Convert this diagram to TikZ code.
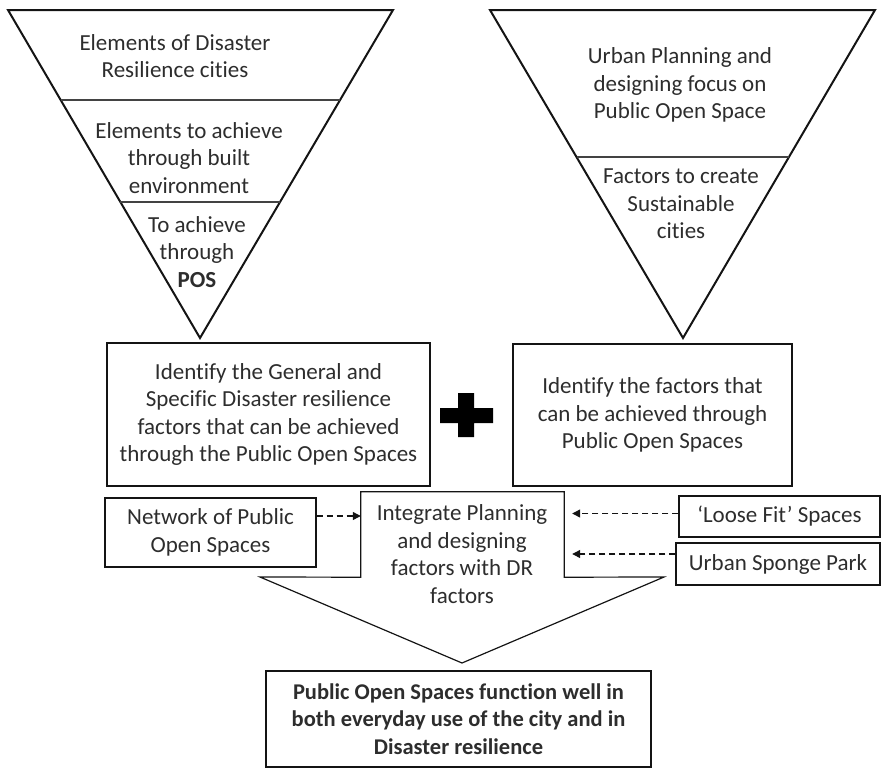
\documentclass[tikz,border=0pt]{standalone}
\usepackage{fontspec}
\setmainfont{Carlito}[Ligatures=CommonOff]
\usetikzlibrary{arrows.meta,calc}
\definecolor{txt}{RGB}{45,45,45}
\definecolor{ln}{RGB}{20,20,20}
\tikzset{
  lbl/.style={align=center,text=txt,font=\fontsize{23}{27.5}\selectfont,inner sep=0pt},
  blbl/.style={lbl,font=\fontsize{22.5}{27.5}\selectfont\bfseries},
  tri/.style={draw=ln,line width=2pt,line join=miter},
  divl/.style={draw=ln!80,line width=1.5pt},
  boxl/.style={draw=ln,line width=1.3pt},
  dasharrow/.style={draw=ln,line width=1.2pt,dash pattern=on 6pt off 4pt,-{Triangle[length=8pt,width=8pt]}}
}
\begin{document}
\begin{tikzpicture}[x=1pt,y=-1pt]
\useasboundingbox (0,0) rectangle (884,769);
% left triangle
\coordinate (LA) at (8,10); \coordinate (LB) at (393,10); \coordinate (LC) at (200,338);
\draw[tri] (LA) -- (LB) -- (LC) -- cycle;
\draw[divl] ($(LA)!90/328!(LC)$) -- ($(LB)!90/328!(LC)$);
\draw[divl] ($(LA)!192/328!(LC)$) -- ($(LB)!192/328!(LC)$);
\node[lbl] (l1) at (175,56) {Elements of Disaster\\Resilience cities};
\node[lbl] (l2) at (189,158) {Elements to achieve\\through built\\environment};
\node[lbl] (l3) at (197,252) {To achieve\\through\\\textbf{POS}};
% right triangle
\coordinate (RA) at (490,10); \coordinate (RB) at (875,10); \coordinate (RC) at (683,338);
\draw[tri] (RA) -- (RB) -- (RC) -- cycle;
\draw[divl] ($(RA)!147/328!(RC)$) -- ($(RB)!147/328!(RC)$);
\node[lbl] (r1) at (680,85) {Urban Planning and\\designing focus on\\Public Open Space};
\node[lbl] (r2) at (681,204) {Factors to create\\Sustainable\\cities};
% middle boxes
\node[boxl,lbl,minimum width=323pt,minimum height=143pt] (idl) at (268.5,414.5) {Identify the General and\\Specific Disaster resilience\\factors that can be achieved\\through the Public Open Spaces};
\node[boxl,lbl,minimum width=279pt,minimum height=142pt] (idr) at (652.5,415) {Identify the factors that\\can be achieved through\\Public Open Spaces};
% plus sign
\fill[black] (458,393) -- (474,393) -- (474,408) -- (493,408) -- (493,423) -- (474,423) -- (474,437) -- (458,437) -- (458,423) -- (440,423) -- (440,408) -- (458,408) -- cycle;
% bottom row
\node[boxl,lbl,minimum width=211pt,minimum height=69pt] (net) at (210.5,532.5) {Network of Public\\Open Spaces};
\node[minimum width=203pt,minimum height=85pt,inner sep=0pt] (integ) at (462.5,534.5) {};
\draw[draw=ln,line width=1.2pt,line join=miter] (integ.north west) -- (integ.north east) -- (integ.south east) -- (664,577) -- (462,663) -- (260,577) -- (integ.south west) -- cycle;
\node[lbl] (integtxt) at (462,554) {Integrate Planning\\and designing\\factors with DR\\factors};
\node[boxl,lbl,minimum width=201pt,minimum height=41pt] (loose) at (779.5,516.5) {`Loose Fit' Spaces};
\node[boxl,lbl,minimum width=204pt,minimum height=42pt] (sponge) at (778,564) {Urban Sponge Park};
\node[boxl,blbl,minimum width=385pt,minimum height=96pt] (final) at (458.5,719) {Public Open Spaces function well in\\both everyday use of the city and in\\Disaster resilience};
% connectors
\path ([yshift=16.5pt]net.east) coordinate (n1);
\draw[dasharrow] (n1) -- (n1 -| integ.west);
\path ([yshift=3pt]loose.west) coordinate (lo1);
\draw[dasharrow,shorten >=8pt] (lo1) -- (lo1 -| integ.east);
\path ([yshift=10pt]sponge.west) coordinate (sp1);
\draw[dasharrow,shorten >=8pt] (sp1) -- (sp1 -| integ.east);
\end{tikzpicture}
\end{document}
